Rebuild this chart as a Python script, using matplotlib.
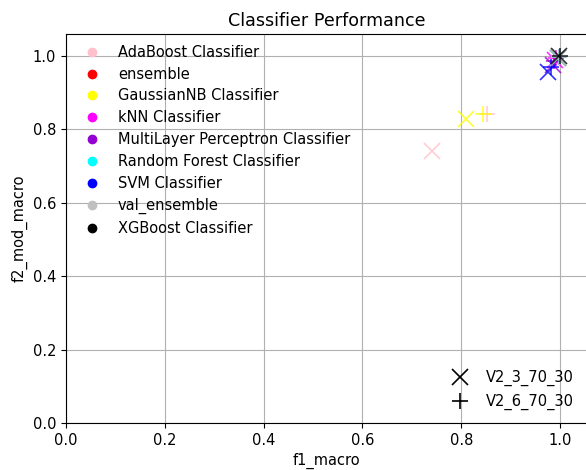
import matplotlib
matplotlib.use("Agg")
import matplotlib.pyplot as plt
from matplotlib.lines import Line2D

plt.rcParams["font.size"] = 10.5

classifiers = ["AdaBoost Classifier", "ensemble", "GaussianNB Classifier", "kNN Classifier",
               "MultiLayer Perceptron Classifier", "Random Forest Classifier", "SVM Classifier",
               "val_ensemble", "XGBoost Classifier"]
colors = ["pink", "red", "yellow", "magenta", "darkviolet", "cyan", "blue", "silver", "black"]
configs = ["V2_3_70_30", "V2_6_70_30"]
markers = ["x", "+"]

f1_v23 = [0.740, 0.995, 0.810, 0.990, 0.985, 0.995, 0.975, 0.995, 0.997]
f2_v23 = [0.740, 0.995, 0.828, 0.990, 0.975, 0.995, 0.957, 0.995, 1.000]
f1_v26 = [0.852, 0.998, 0.843, 0.992, 0.988, 0.997, 0.982, 0.998, 1.000]
f2_v26 = [0.842, 0.998, 0.842, 0.995, 0.985, 0.997, 0.970, 0.998, 1.000]

fig = plt.figure(figsize=(5.86, 4.70), dpi=100)
ax = fig.add_axes([0.1126, 0.1, 0.8894, 0.828])

data = [(f1_v23, f2_v23), (f1_v26, f2_v26)]
for i, name in enumerate(classifiers):
    for (fx, fy), m in zip(data, markers):
        ax.plot(fx[i], fy[i], linestyle="none", marker=m, color=colors[i],
                markersize=11, markeredgewidth=1.2, alpha=0.8)

ax.set_xlim(0, 1.0547)
ax.set_ylim(0, 1.06)
ax.set_xticks([0.0, 0.2, 0.4, 0.6, 0.8, 1.0])
ax.set_yticks([0.0, 0.2, 0.4, 0.6, 0.8, 1.0])
ax.grid(True)
ax.set_axisbelow(True)
ax.set_title("Classifier Performance", fontsize=12.6)
ax.set_xlabel("f1_macro")
ax.set_ylabel("f2_mod_macro")

h1 = [Line2D([], [], linestyle="none", marker="o", color=c, markersize=6) for c in colors]
leg1 = ax.legend(h1, classifiers, loc="upper left", frameon=False,
                 labelspacing=0.47, borderaxespad=0.35)
ax.add_artist(leg1)
h2 = [Line2D([], [], linestyle="none", marker=m, color="black", markersize=11, markeredgewidth=1.2)
      for m in markers]
ax.legend(h2, configs, loc="lower right", frameon=False)

fig.savefig("out.png", dpi=100)
